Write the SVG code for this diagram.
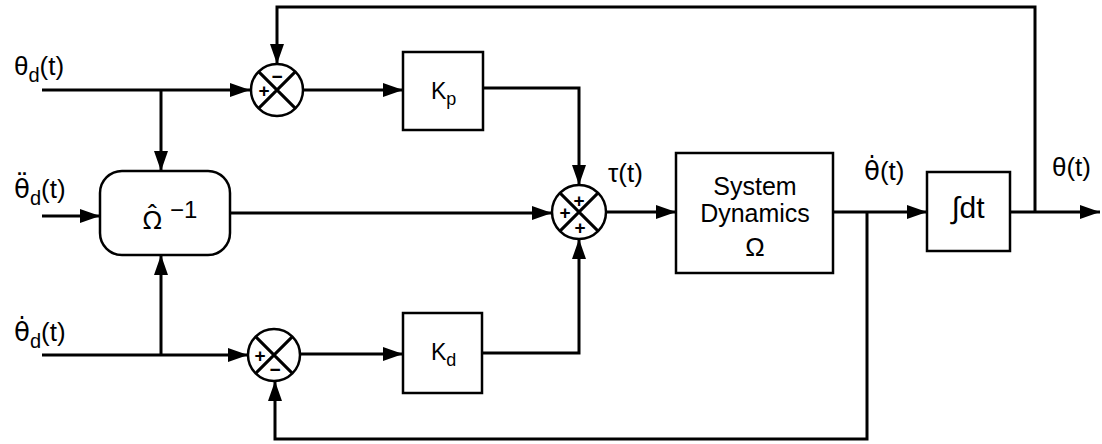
<svg xmlns="http://www.w3.org/2000/svg" width="1102" height="444" viewBox="0 0 1102 444">
<defs>
<marker id="arr" markerUnits="userSpaceOnUse" markerWidth="22" markerHeight="16" refX="20" refY="8" orient="auto">
<path d="M0,1 L20,8 L0,15 Z" fill="#000"/>
</marker>
<style>
.w{fill:none;stroke:#000;stroke-width:3}
.b{fill:#fff;stroke:#000;stroke-width:2.5}
.t{font-family:"Liberation Sans","DejaVu Sans",sans-serif;fill:#000}
.d{font-family:"DejaVu Sans",sans-serif}
.n{font-family:"Noto Sans","DejaVu Sans",sans-serif}
.s{font-family:"Liberation Sans","DejaVu Sans",sans-serif;fill:#000;font-size:19px;font-weight:bold;text-anchor:middle}
</style>
</defs>
<rect width="1102" height="444" fill="#fff"/>
<g id="connectors">
<path class="w" d="M42,90 H250" marker-end="url(#arr)"/>
<path class="w" d="M161,90 V171" marker-end="url(#arr)"/>
<path class="w" d="M42,216 H100" marker-end="url(#arr)"/>
<path class="w" d="M42,355 H248" marker-end="url(#arr)"/>
<path class="w" d="M161,355 V255" marker-end="url(#arr)"/>
<path class="w" d="M303,90 H403" marker-end="url(#arr)"/>
<path class="w" d="M300,354 H403" marker-end="url(#arr)"/>
<path class="w" d="M483,88 H579 V185" marker-end="url(#arr)"/>
<path class="w" d="M482,353 H579 V239" marker-end="url(#arr)"/>
<path class="w" d="M230,213 H552" marker-end="url(#arr)"/>
<path class="w" d="M606,212 H676" marker-end="url(#arr)"/>
<path class="w" d="M833,212 H927" marker-end="url(#arr)"/>
<path class="w" d="M1010,212 H1100" marker-end="url(#arr)"/>
<path class="w" d="M1035,212 V7 H277 V64" marker-end="url(#arr)"/>
<path class="w" d="M867,212 V439 H275 V381" marker-end="url(#arr)"/>
</g>
<g id="sum-top">
<circle class="b" cx="277" cy="90" r="26"/>
<path class="w" stroke-width="2.5" d="M258.6,71.6 L295.4,108.4 M295.4,71.6 L258.6,108.4"/>
<text class="s" x="277" y="83">−</text>
<text class="s" x="264" y="97">+</text>
</g>
<g id="sum-center">
<circle class="b" cx="579" cy="212" r="27"/>
<path class="w" stroke-width="2.5" d="M559.9,192.9 L598.1,231.1 M598.1,192.9 L559.9,231.1"/>
<text class="s" x="579" y="207">+</text>
<text class="s" x="565" y="219">+</text>
<text class="s" x="580" y="234">+</text>
</g>
<g id="sum-bottom">
<circle class="b" cx="274" cy="355" r="26"/>
<path class="w" stroke-width="2.5" d="M255.6,336.6 L292.4,373.4 M292.4,336.6 L255.6,373.4"/>
<text class="s" x="260" y="362">+</text>
<text class="s" x="275" y="376">−</text>
</g>
<g id="omega-inv">
<rect class="b" x="100" y="171" width="130" height="84" rx="22"/>
<text class="t n" x="143" y="229" font-size="26">Ω̂</text>
<text class="t" x="170" y="218" font-size="24">−1</text>
</g>
<g id="kp">
<rect class="b" x="403" y="52" width="80" height="78"/>
<text class="t" x="431" y="99" font-size="23">K<tspan font-size="18" dy="6">p</tspan></text>
</g>
<g id="kd">
<rect class="b" x="403" y="313" width="79" height="80"/>
<text class="t" x="431" y="360" font-size="23">K<tspan font-size="18" dy="6">d</tspan></text>
</g>
<g id="system">
<rect class="b" x="676" y="153" width="157" height="120"/>
<text class="t" x="755" y="195" font-size="25" text-anchor="middle">System</text>
<text class="t" x="755" y="222" font-size="25" text-anchor="middle">Dynamics</text>
<text class="t" x="755" y="256" font-size="26" text-anchor="middle">Ω</text>
</g>
<g id="integrator">
<rect class="b" x="927" y="172" width="83" height="79"/>
<text class="t" x="968" y="218" font-size="30" text-anchor="middle">∫dt</text>
</g>
<g id="labels">
<text class="t" x="14" y="75" font-size="26">θ<tspan font-size="20" dy="7">d</tspan><tspan dy="-7">(t)</tspan></text>
<text class="t" x="14" y="198" font-size="26"><tspan class="d">θ̈</tspan><tspan font-size="20" dy="7">d</tspan><tspan dy="-7">(t)</tspan></text>
<text class="t" x="14" y="341" font-size="26"><tspan class="d">θ̇</tspan><tspan font-size="20" dy="7">d</tspan><tspan dy="-7">(t)</tspan></text>
<text class="t" x="608" y="182" font-size="26">τ(t)</text>
<text class="t" x="864" y="180" font-size="26"><tspan class="d">θ̇</tspan>(t)</text>
<text class="t" x="1052" y="176" font-size="26">θ(t)</text>
</g>
</svg>
